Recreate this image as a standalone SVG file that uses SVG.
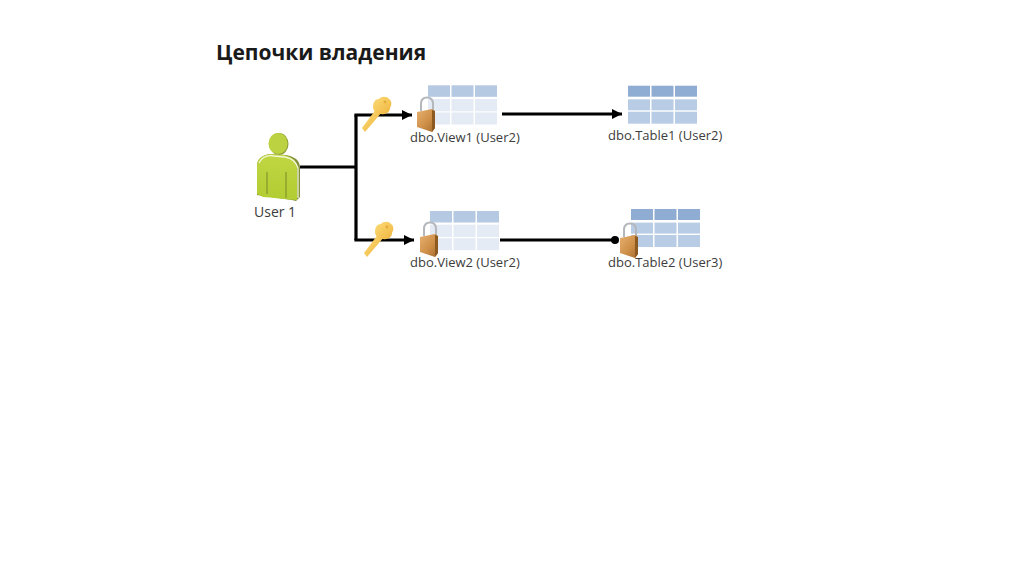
<svg xmlns="http://www.w3.org/2000/svg" width="1024" height="574" viewBox="0 0 1024 574">
<style>
text{font-family:"Open Sans","Noto Sans","DejaVu Sans",sans-serif;fill:#3c3c3c}
.lbl{font-size:13px}
.title{font-size:21px;font-weight:700;fill:#1a1a1a}
.wire{stroke:#000;stroke-width:3.2;fill:none}
.vh{fill:#b5c9e2}.vc{fill:#e4ebf5}
.th{fill:#8fadd3}.tc{fill:#b8cce5}
</style>
<defs>
<linearGradient id="lockG" x1="0" y1="0" x2="1" y2="1"><stop offset="0" stop-color="#e6b070"/><stop offset=".55" stop-color="#cf9049"/><stop offset="1" stop-color="#a56c2e"/></linearGradient>
<linearGradient id="keyG" x1="0" y1="0" x2="1" y2="1"><stop offset="0" stop-color="#fcdc78"/><stop offset="1" stop-color="#efb53e"/></linearGradient>
<linearGradient id="bodyG" x1="0" y1="0" x2="0" y2="1"><stop offset="0" stop-color="#c0d743"/><stop offset="1" stop-color="#b2cc32"/></linearGradient>
<filter id="soft" x="-10%" y="-10%" width="120%" height="120%"><feGaussianBlur stdDeviation="0.4"/></filter>
<marker id="arrow" markerUnits="userSpaceOnUse" markerWidth="12" markerHeight="12" refX="10" refY="6" orient="auto"><path d="M0,1 L10,6 L0,11 Z" fill="#000"/></marker>
<g id="grid-v">
<rect class="vh" x="0" y="0" width="22" height="11.5"/><rect class="vh" x="23.5" y="0" width="22" height="11.5"/><rect class="vh" x="47" y="0" width="22" height="11.5"/>
<rect class="vc" x="0" y="13.7" width="22" height="12.3"/><rect class="vc" x="23.5" y="13.7" width="22" height="12.3"/><rect class="vc" x="47" y="13.7" width="22" height="12.3"/>
<rect class="vc" x="0" y="27.2" width="22" height="12"/><rect class="vc" x="23.5" y="27.2" width="22" height="12"/><rect class="vc" x="47" y="27.2" width="22" height="12"/>
</g>
<g id="grid-t">
<rect class="th" x="0" y="0" width="22" height="11"/><rect class="th" x="23.5" y="0" width="22" height="11"/><rect class="th" x="47" y="0" width="22" height="11"/>
<rect class="tc" x="0" y="13.6" width="22" height="11"/><rect class="tc" x="23.5" y="13.6" width="22" height="11"/><rect class="tc" x="47" y="13.6" width="22" height="11"/>
<rect class="tc" x="0" y="26" width="22" height="12"/><rect class="tc" x="23.5" y="26" width="22" height="12"/><rect class="tc" x="47" y="26" width="22" height="12"/>
</g>
<g id="lock">
<path d="M4,14 V7 C4,2 6.500,0.500 10,0.500 C13.500,0.500 16,2 16,7 V14" fill="none" stroke="#b4b8bc" stroke-width="2"/>
<path d="M0,15 L15,12 L18,14 V31 L15,35 L0,30 Z" fill="url(#lockG)"/>
<path d="M15,13 L18,14 V31 L15,35 Z" fill="#8d5a24"/>
</g>
<g id="key">
<path d="M0,31 L3,35 L20,15 L15,11 Z" fill="url(#keyG)"/>
<path d="M11,10 C11,5 13,2 17,2 C19,-1 25,-1 27,2 C30,4 30,8 28,11 C28,15 24,18 19,17 C15,17 11,14 11,10 Z" fill="url(#keyG)"/>
<circle cx="23" cy="5" r="1.400" fill="#e4aa3a"/>
</g>
</defs>
<rect width="1024" height="574" fill="#fff"/>
<text class="title" x="216" y="60">Цепочки владения</text>
<g id="connectors">
<path class="wire" d="M300,167 H356"/>
<path class="wire" d="M356,240 V115"/>
<path class="wire" d="M354.400,115 H412" marker-end="url(#arrow)"/>
<path class="wire" d="M354.400,240 H414" marker-end="url(#arrow)"/>
<path class="wire" d="M502,114 H622" marker-end="url(#arrow)"/>
<path class="wire" d="M500,240 H615"/>
<circle cx="615" cy="240" r="4" fill="#000"/>
</g>
<g id="user1">
<g filter="url(#soft)">
<ellipse cx="279" cy="144" rx="9.500" ry="11" fill="#8f9f3a"/>
<ellipse cx="278" cy="143.500" rx="9.500" ry="10.500" fill="#bcd23f"/>
<path d="M257,195 V166 C257,158 263,155 270,154 L286,155 C295,157 300,160 300,168 V197 L296,201 L292,200 Z" fill="#7f8f3a"/>
<path d="M257,194 V166 C257,158 263,155 270,154 L284,155 C292,157 297,160 297,168 V200 C288,200 270,197 263,197 Z" fill="url(#bodyG)"/>
<path d="M259,163 C262,157 268,155 274,156 L285,157 C291,158 296,161 298,168 V198" fill="none" stroke="#f3f6d8" stroke-width="1.300"/>
<path d="M267,172 V194 M286,172 V198" stroke="#7f9228" stroke-width="1.100" fill="none"/>
</g>
<text class="lbl" x="254" y="217" style="font-size:14px">User 1</text>
</g>
<g id="view1">
<use href="#grid-v" x="428" y="85.300" filter="url(#soft)"/>
<use href="#lock" x="417" y="97" filter="url(#soft)"/>
<text class="lbl" x="410" y="142">dbo.View1 (User2)</text>
</g>
<g id="key1"><use href="#key" x="362" y="97" filter="url(#soft)"/></g>
<g id="table1">
<use href="#grid-t" x="628" y="85.700" filter="url(#soft)"/>
<text class="lbl" x="608" y="140">dbo.Table1 (User2)</text>
</g>
<g id="view2">
<use href="#grid-v" x="430" y="211" filter="url(#soft)"/>
<use href="#lock" x="420" y="222" filter="url(#soft)"/>
<text class="lbl" x="410" y="267">dbo.View2 (User2)</text>
</g>
<g id="key2"><use href="#key" x="364" y="222" filter="url(#soft)"/></g>
<g id="table2">
<use href="#grid-t" x="631" y="209" filter="url(#soft)"/>
<use href="#lock" x="620" y="223" filter="url(#soft)"/>
<text class="lbl" x="608" y="267">dbo.Table2 (User3)</text>
</g>
</svg>
